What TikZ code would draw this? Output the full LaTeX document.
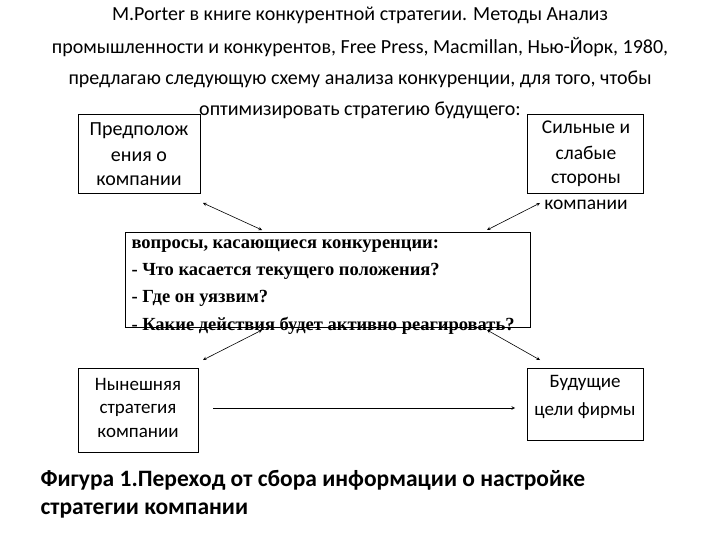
\documentclass[tikz,border=0pt]{standalone}
\usepackage{fontspec}
\setmainfont{Carlito}
\newfontfamily\tms{Liberation Serif}
\newcommand{\fsz}[2]{\fontsize{#1}{#2}\selectfont}
\begin{document}
\begin{tikzpicture}[x=1pt,y=-1pt,
  bx/.style={draw,line width=0.8pt},
  tx/.style={align=center},
  arr/.style={<->,>=stealth,line width=0.6pt}]
\useasboundingbox (0,0) rectangle (720,540);
\node[tx] (title) at (360,63) {\fsz{20}{27}M.Porter в книге конкурентной стратегии. Методы Анализ\\[13pt]\fsz{20}{27}промышленности и конкурентов, Free Press, Macmillan, Нью-Йорк, 1980,\\[13pt]\fsz{20}{27}предлагаю следующую схему анализа конкуренции, для того, чтобы\\[13pt]\fsz{20}{27}оптимизировать стратегию будущего:};
\draw[bx] (78,114) rectangle (200,193);
\node[tx] (a) at (139,154) {\fsz{20}{24.5}Предполож\\[12pt]\fsz{20}{24.5}ения о\\[12pt]\fsz{20}{24.5}компании};
\draw[bx] (527,114) rectangle (643,193);
\node[tx] (b) at (586,165) {\fsz{19.5}{24.5}Сильные и\\[12pt]\fsz{19.5}{24.5}слабые\\[12pt]\fsz{19.5}{24.5}стороны\\[12pt]\fsz{19.5}{24.5}компании};
\draw[bx] (125,232) rectangle (530,327);
\node[align=left,anchor=north west,font=\tms\bfseries] (c) at (128,236) {\fsz{18.5}{22.5}вопросы, касающиеся конкуренции:\\[10pt]\fsz{18.5}{22.5}- Что касается текущего положения?\\[10pt]\fsz{18.5}{22.5}- Где он уязвим?\\[10pt]\fsz{18.5}{22.5}- Какие действия будет активно реагировать?};
\draw[bx] (78,368) rectangle (198,452);
\node[tx] (d) at (138,408) {\fsz{19}{24}Нынешняя\\[11pt]\fsz{19}{24}стратегия\\[11pt]\fsz{19}{24}компании};
\draw[bx] (527,368) rectangle (643,440);
\node[tx] (e) at (585,397) {\fsz{19}{24}Будущие\\[11pt]\fsz{19}{24}цели фирмы};
\coordinate (a1) at (203,203); \coordinate (a2) at (262,230);
\coordinate (b1) at (540,203); \coordinate (b2) at (487,230);
\coordinate (d1) at (203,360); \coordinate (d2) at (262,330);
\coordinate (e1) at (540,360); \coordinate (e2) at (487,330);
\coordinate (f1) at (213,408); \coordinate (f2) at (515,408);
\draw[arr] (a1) -- (a2);
\draw[arr] (b1) -- (b2);
\draw[arr] (d1) -- (d2);
\draw[arr] (e1) -- (e2);
\draw[->,>=stealth,line width=0.6pt] (f1) -- (f2);
\node[align=left,anchor=west,font=\bfseries] (cap) at (37,494) {\fsz{23.5}{27}Фигура 1.Переход от сбора информации о настройке\\[12pt]\fsz{23.5}{27}стратегии компании};
\end{tikzpicture}
\end{document}
